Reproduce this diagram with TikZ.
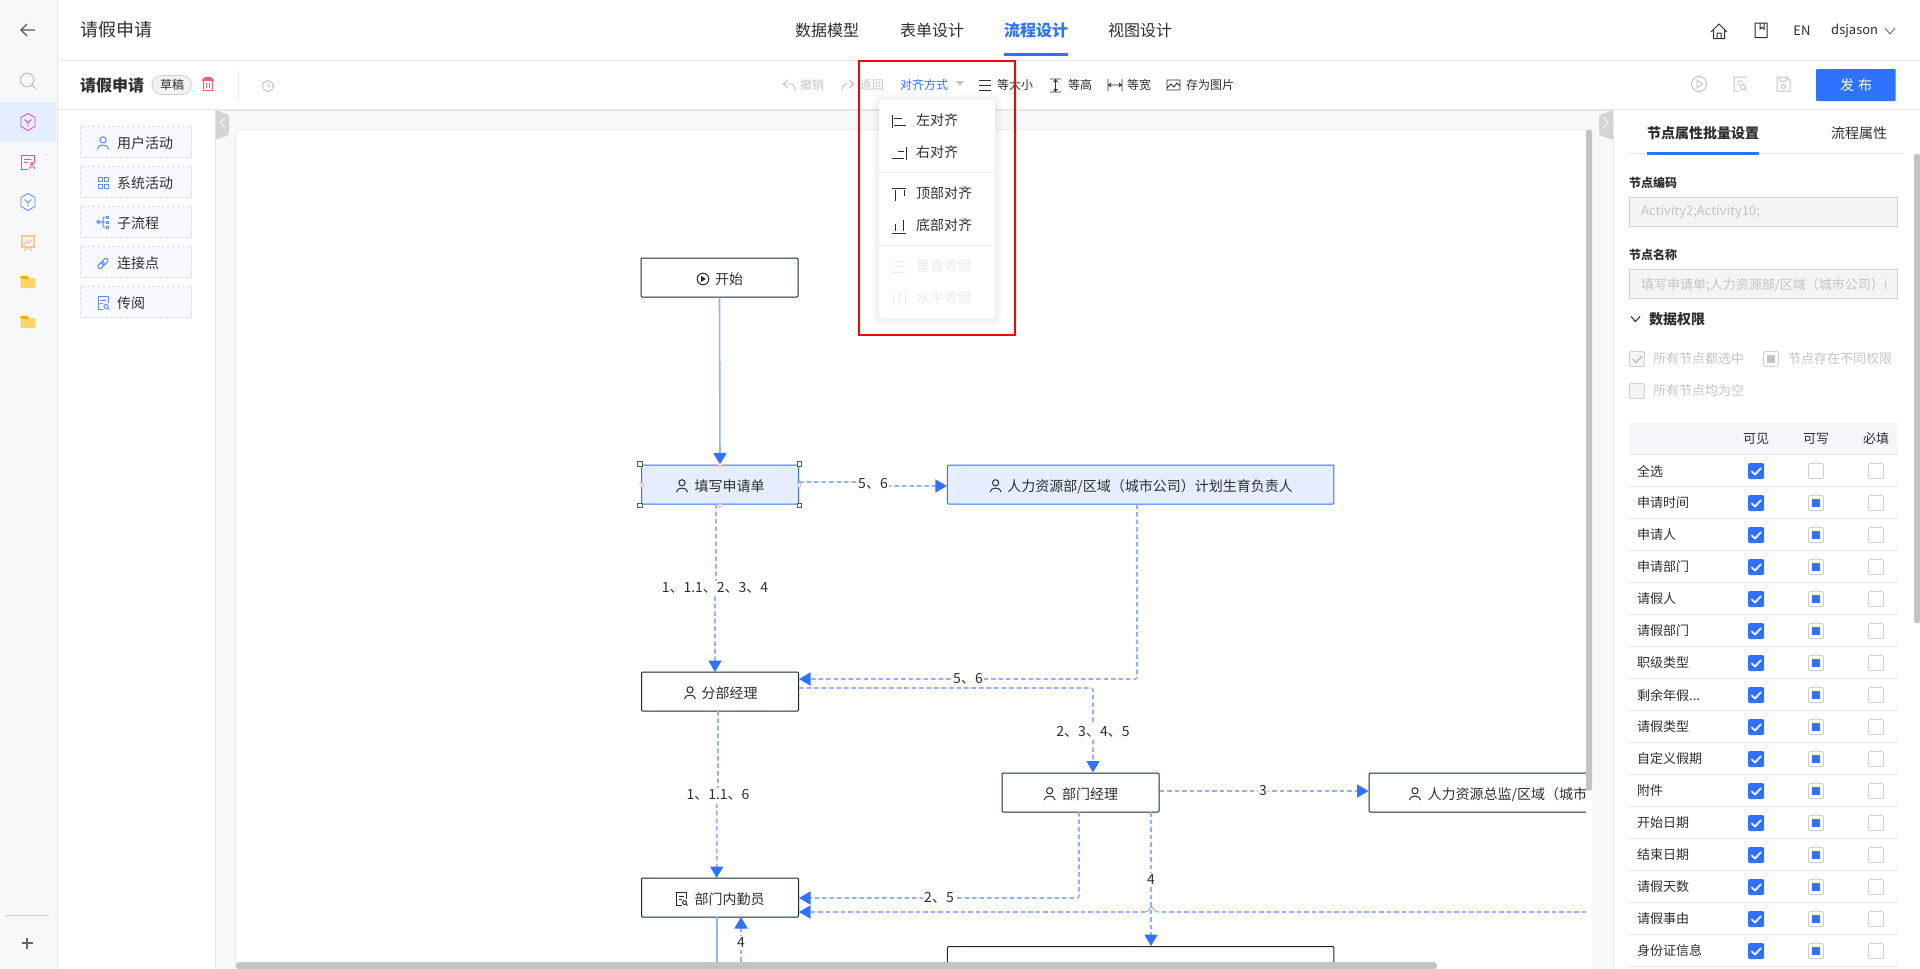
\documentclass[tikz,border=0pt]{standalone}
\usepackage{fontspec}
\setmainfont{Noto Sans CJK SC}
\usetikzlibrary{arrows.meta,calc}
\definecolor{blueA}{HTML}{2E72FF}
\definecolor{blueL}{HTML}{8DB2FF}
\definecolor{blueF}{HTML}{E5EEFF}
\definecolor{darkB}{HTML}{12293A}
\definecolor{txtA}{HTML}{2E2E2E}
\definecolor{txtG}{HTML}{C4C4C4}
\definecolor{txtH}{HTML}{EBEBEB}
\definecolor{panelG}{HTML}{F7F8FA}
\definecolor{lineG}{HTML}{E6E6E6}
\definecolor{barG}{HTML}{C2C3C5}
\definecolor{iconB}{HTML}{5C8DFF}
\definecolor{pinkA}{HTML}{EC4A9C}
\definecolor{orangeA}{HTML}{FFC58E}
\definecolor{yellowA}{HTML}{FFD566}
\definecolor{paletteF}{HTML}{F8F9FE}
\definecolor{paletteB}{HTML}{D9DEE9}
\definecolor{headF}{HTML}{F5F6FA}
\definecolor{trashR}{HTML}{F0606A}
\newcommand{\leftyear}{剩余年假...}
\newcounter{tc}
\newcommand{\tl}[5]{\stepcounter{tc}\node[inner sep=0,anchor=west,text=#4,font=\fontsize{#3}{#3}\selectfont] (t\thetc) at (#1,#2) {#5};}
\newcommand{\tm}[5]{\stepcounter{tc}\node[inner sep=0,text=#4,font=\fontsize{#3}{#3}\selectfont] (t\thetc) at (#1,#2) {#5};}
\newcommand{\personic}[3]{\begin{scope}[shift={(#1,#2)},draw=#3,line width=1pt]\draw (0,-3.2) circle (3.1);\draw (-5.5,6) .. controls (-5.5,0.8) and (5.5,0.8) .. (5.5,6);\end{scope}}
\newcommand{\cubeic}[3]{\begin{scope}[shift={(#1,#2)},draw=#3,line width=.9pt]\draw (0,-8.5) -- (7,-4.5) -- (7,4.5) -- (0,8.5) -- (-7,4.5) -- (-7,-4.5) -- cycle;\draw (-3.5,-2.5) -- (0,0.5) -- (3.5,-2.5) (0,0.5) -- (0,4.5);\end{scope}}
\newcommand{\folderic}[2]{\fill[yellowA,rounded corners=1pt] (#1-7.5,#2-6) -- (#1-1,#2-6) -- (#1+1,#2-4) -- (#1+7.5,#2-4) -- (#1+7.5,#2+6) -- (#1-7.5,#2+6) -- cycle;\fill[orange!75!yellow] (#1-7.5,#2-6) -- (#1-1,#2-6) -- (#1+1,#2-3.5) -- (#1-7.5,#2-3.5) -- cycle;}
\newcommand{\docic}[3]{\begin{scope}[shift={(#1,#2)},draw=#3,line width=1pt]\draw (5,0) -- (5,-6.5) -- (-5,-6.5) -- (-5,6.5) -- (0,6.5);\draw (-3,-3) -- (2.5,-3) (-3,0) -- (0,0);\draw (3,3.5) circle (2);\draw (4.5,5) -- (6,6.5);\end{scope}}
\newcommand{\cbvis}[2]{\fill[blueA,rounded corners=1.5pt] (#1-8,#2-8) rectangle (#1+8,#2+8);\draw[white,line width=1.7pt] (#1-4.5,#2+0.2) -- (#1-1,#2+3.5) -- (#1+5,#2-3);}
\newcommand{\cbempty}[2]{\draw[draw=lineG!90!black,fill=white,line width=.9pt,rounded corners=1.5pt] (#1-7.5,#2-7.5) rectangle (#1+7.5,#2+7.5);}
\newcommand{\cbpart}[2]{\cbempty{#1}{#2}\fill[blueA] (#1-4,#2-4) rectangle (#1+4,#2+4);}
\tikzset{
 x=1pt,y=-1pt,
 flowbox/.style={draw=darkB,fill=white,line width=1pt,rounded corners=1pt,inner sep=0,text=txtA,font=\fontsize{14}{14}\selectfont,minimum height=39pt,text height=13.4pt,text depth=.2pt},
 selbox/.style={flowbox,draw=blueA,fill=blueF},
 dashline/.style={draw=blueL,line width=1.6pt,dash pattern=on 4.5pt off 3pt,rounded corners=2pt},
 solidline/.style={draw=blueL,line width=1.6pt},
 tipped/.style={-{Triangle[length=11.5pt,width=13pt,color=blueA]}},
 flowlabel/.style={fill=white,inner sep=1.5pt,text=txtA,font=\fontsize{14}{14}\selectfont},
 palette/.style={draw=paletteB,fill=paletteF,dash pattern=on 3pt off 2pt,line width=.7pt},
 grayic/.style={draw=txtG,line width=1pt},
 darkic/.style={draw=txtA,line width=1pt},
 handlesq/.style={draw=black!65,fill=white,line width=.9pt,inner sep=0,minimum size=4.5pt,rectangle},
 handlept/.style={draw=red!35,fill=white,line width=.7pt,inner sep=0,minimum size=4pt,circle},
}
\begin{document}
\begin{tikzpicture}
\useasboundingbox (0,0) rectangle (1920,969);
\fill[white] (0,0) rectangle (1920,969);
% left bar
\fill[panelG] (0,0) rectangle (56.5,969);
\draw[lineG,line width=1pt] (57,0) -- (57,969);
\fill[blueF] (0,102) rectangle (56,142);
\draw[black!65,line width=1.1pt] (35,30) -- (21,30) (27,24) -- (21,30) -- (27,36);
\draw[txtG,line width=1.2pt] (27,80) circle (6.8) (32,85) -- (36,89);
\cubeic{28}{122}{pinkA}
\begin{scope}[draw=pinkA,line width=.9pt]
\draw (34,163) -- (34,155) -- (21,155) -- (21,169) -- (28,169);
\draw (24,159) -- (31,159) (24,162) -- (28,162);
\draw (32,164) circle (1.6) (29.5,169) -- (30,167) -- (34,167) -- (35,169);
\end{scope}
\cubeic{28}{202}{iconB}
\begin{scope}[draw=orangeA,line width=1.1pt]
\draw (20.5,236) -- (35.5,236) (22,236) -- (22,247) -- (34,247) -- (34,236);
\draw (24,245) -- (27,241) -- (29,243) -- (32,239);
\draw (28,247) -- (24,251) (28,247) -- (32,251);
\end{scope}
\folderic{28}{282}
\folderic{28}{322}
\draw[lineG!90!black,line width=1pt] (5,915) -- (49,915);
\draw[black!60,line width=1.2pt] (21.5,943) -- (32.5,943) (27,937.5) -- (27,948.5);
% header
\draw[lineG,line width=1pt] (57,60) -- (1920,60);
\draw[lineG,line width=1pt] (57,109) -- (1920,109);
\tl{80}{30}{18}{txtA}{请假申请}
\tm{827}{30}{16}{txtA}{数据模型}
\tm{932}{30}{16}{txtA}{表单设计}
\tm{1036}{30}{16}{blueA}{\bfseries 流程设计}
\tm{1140}{30}{16}{txtA}{视图设计}
\fill[blueA] (1004,53) rectangle (1068,56);
% header right
\begin{scope}[darkic]
\draw (1711,32) -- (1719,24) -- (1727,32) (1713.5,30) -- (1713.5,38.5) -- (1724.5,38.5) -- (1724.5,30) (1717,38.5) -- (1717,33) -- (1721,33) -- (1721,38.5);
\draw (1755,23) rectangle (1767,37.5) (1760,23) -- (1760,29) -- (1762,27.5) -- (1764,29) -- (1764,23);
\end{scope}
\tm{1802}{31}{13}{txtA}{EN}
\tl{1831}{31}{13}{txtA}{dsjason}
\draw[black!60,line width=.9pt] (1885,28) -- (1890,34) -- (1895,28);
% toolbar
\tl{80}{85}{16}{txtA}{\bfseries 请假申请}
\draw[lineG!90!black,fill=black!5,line width=.8pt,rounded corners=9.5pt] (152,75.5) rectangle (191.5,94.5);
\tm{172}{85}{12}{txtA}{草稿}
\begin{scope}[draw=trashR,line width=1.1pt]
\draw (202,80) -- (214,80) (205,80) -- (205,78) -- (211,78) -- (211,80);
\draw (203.5,80) rectangle (212.5,90.5);
\draw[line width=.8pt] (206.5,83) -- (206.5,88) (209.5,83) -- (209.5,88);
\end{scope}
\draw[lineG,line width=1pt] (238,71) -- (238,99);
\draw[grayic] (268,86) circle (5.5) (268,83) -- (268,86) -- (270.5,87) (272,86) -- (275,86);
% toolbar centre
\draw[grayic,line width=.9pt] (788,80) -- (783,84) -- (788,88) (783,84) -- (790,84) .. controls (794,84) and (795,87) .. (795,91);
\tl{800}{85}{12}{txtG}{撤销}
\draw[grayic,line width=.9pt] (849,80) -- (854,84) -- (849,88) (854,84) -- (847,84) .. controls (843,84) and (842,87) .. (842,91);
\tl{860}{85}{12}{txtG}{返回}
\tl{900}{85}{12}{blueA}{对齐方式}
\fill[txtG] (956,81) -- (964,81) -- (960,86) -- cycle;
\draw[darkic] (979,80) -- (991,80) (979,85) -- (991,85) (979,90) -- (991,90);
\tl{997}{85}{12}{txtA}{等大小}
\draw[darkic,line width=.9pt] (1050,79) -- (1061,79) (1050,92) -- (1061,92) (1055.5,79.5) -- (1055.5,91.5) (1053.5,82) -- (1055.5,80) -- (1057.5,82) (1053.5,89) -- (1055.5,91) -- (1057.5,89);
\tl{1068}{85}{12}{txtA}{等高}
\draw[darkic,line width=.9pt] (1108,79) -- (1108,91) (1122,79) -- (1122,91) (1108.5,85) -- (1121.5,85) (1111,83) -- (1109,85) -- (1111,87) (1119,83) -- (1121,85) -- (1119,87);
\tl{1127}{85}{12}{txtA}{等宽}
\draw[darkic,line width=.9pt] (1167,80) rectangle (1180,90) (1167,88) -- (1171,84) -- (1174,87) -- (1177,83) -- (1180,86);
\tl{1186}{85}{12}{txtA}{存为图片}
% toolbar right
\draw[grayic] (1699,84) circle (7.5) (1697,80) -- (1697,88) -- (1702.5,84) -- cycle;
\draw[grayic] (1746,78) -- (1746,77) -- (1734,77) -- (1734,91) -- (1739,91) (1737,81) -- (1743,81) (1737,84) -- (1740,84) (1743,87) circle (2.6) (1745,89) -- (1747,91);
\draw[grayic] (1777,77) -- (1786,77) -- (1790,80) -- (1790,91) -- (1777,91) -- cycle (1780,77) -- (1780,81) -- (1786,81) -- (1786,77) (1783.5,86.5) circle (2);
\fill[blueA,rounded corners=1pt] (1816,69) rectangle (1895.5,101);
\tm{1856}{85}{14}{white}{发\hspace{4pt}布}
% left panel palette
\foreach \n/\yy [count=\i] in {用户活动/142,系统活动/182,子流程/222,连接点/262,传阅/302}{
  \draw[palette] (80.5,\yy-15.5) rectangle (191.5,\yy+15.5);
  \tl{117}{\yy+1}{14}{txtA}{\n}
}
\personic{103}{143}{iconB}
\begin{scope}[draw=iconB,line width=1pt]
\draw (98,177) rectangle (102.5,181.5) (104.5,177) rectangle (108.5,181.5) (98,184) rectangle (102.5,188) (104.5,184) rectangle (108.5,188);
\draw (98.5,222) circle (1.6) (100,222) -- (103,222) (103,217) -- (103,227) (103,217) -- (105,217) (103,222) -- (105,222) (103,227) -- (105,227);
\draw (106,216) rectangle (108.5,218.5) (106,221) rectangle (108.5,223.5) (106,226) rectangle (108.5,228.5);
\draw[rotate around={-45:(103,263.5)},rounded corners=1.5pt] (101,257) rectangle (105,264.5) (101,262.5) rectangle (105,270);
\end{scope}
\docic{103}{303}{iconB}
\draw[lineG,line width=1pt] (215.5,110) -- (215.5,969);
% canvas
\fill[panelG] (216,110) rectangle (1613,969);
\draw[lineG,line width=.8pt] (216,110) -- (1613,110);
\fill[white,rounded corners=3pt] (236,130) -- (1592,130) -- (1592,969) -- (236,969) -- cycle;
\draw[lineG,line width=.8pt,rounded corners=3pt] (235.7,969) -- (235.7,129.7) -- (1592,129.7);
\fill[black!17,rounded corners=2pt] (215.5,110) -- (229,115) -- (229,135) -- (215.5,140) -- cycle;
\draw[white,line width=.8pt] (225,117.5) -- (220.5,122.5) -- (225,127.5);
\fill[black!17,rounded corners=2pt] (1613,110) -- (1599,115) -- (1599,135) -- (1613,140) -- cycle;
\draw[white,line width=.8pt] (1603.5,117.5) -- (1608,122.5) -- (1603.5,127.5);
% flow nodes
\begin{scope}
\clip (236,130) rectangle (1586,969);
\node[flowbox,minimum width=157pt] (start) at (719.5,277.5) {\hspace*{19pt}开始};
\node[selbox,minimum width=157pt] (fillform) at (720,484.5) {\hspace*{19pt}填写申请单};
\node[selbox,minimum width=386.5pt] (hr) at (1140.7,484.5) {\hspace*{19pt}人力资源部/区域（城市公司）计划生育负责人};
\node[flowbox,minimum width=157pt] (branch) at (720,691.5) {\hspace*{19pt}分部经理};
\node[flowbox,minimum width=157pt] (deptmgr) at (1080.5,792.5) {\hspace*{19pt}部门经理};
\node[flowbox,minimum width=300pt,anchor=west,text width=290pt,align=left] (hrdir) at (1368.5,792.5) {\hspace*{53.5pt}人力资源总监/区域（城市公司）};
\node[flowbox,minimum width=157pt] (clerk) at (720,897.5) {\hspace*{19pt}部门内勤员};
\node[flowbox,minimum width=386.5pt,anchor=north] (lower) at (1140.7,946) {};
% icons
\draw[darkic] (703,279) circle (5.8);
\fill[txtA] (701.2,276) -- (701.2,282) -- (705.8,279) -- cycle;
\personic{682}{486}{txtA}
\personic{995.6}{486}{txtA}
\personic{690}{693}{txtA}
\personic{1049.6}{794}{txtA}
\personic{1415}{794}{txtA}
\docic{681.5}{899}{txtA}
% connectors
\coordinate (rightin) at (1586,912);
\coordinate (bumpR) at (1158,912);
\coordinate (bumpL) at (1145,912);
\coordinate (below1) at (716.7,969);
\coordinate (below2) at (741,969);
\draw[solidline,tipped] (start.south) -- (fillform.north);
\draw[dashline,tipped] ([yshift=2.5pt]fillform.east) -- ++(74,0) -- ++(0,4) -- (hr.west |- 0,486);
\node[flowlabel] (l56a) at (873,484) {5、6};
\draw[dashline,tipped] (716,504) -- (716,588) -- (715,588) -- (715,672);
\node[flowlabel] (l1a) at (715,588) {1、1.1、2、3、4};
\draw[dashline,tipped] (hr.south -| 1137,0) -- (1137,679) -- (branch.east |- 0,679);
\node[flowlabel] (l56b) at (968,679) {5、6};
\draw[dashline,tipped] (branch.east |- 0,688) -- (1093,688) -- (deptmgr.north -| 1093,0);
\node[flowlabel] (l2a) at (1093,732) {2、3、4、5};
\draw[dashline,tipped] (718,711) -- (718,795) -- (716.7,795) -- (716.7,878);
\node[flowlabel] (l1b) at (718,795) {1、1.1、6};
\draw[dashline,tipped] (deptmgr.east |- 0,791) -- (hrdir.west |- 0,791);
\node[flowlabel] (l3) at (1263,791) {3};
\draw[dashline,tipped] (1079,812) -- (1079,898) -- (clerk.east |- 0,898);
\node[flowlabel] (l25) at (939,898) {2、5};
\draw[dashline] (rightin) -- (bumpR);
\draw[draw=blueL,line width=1pt] (bumpR) .. controls (1154,912) and (1153,907) .. (1151.5,907) .. controls (1150,907) and (1149,912) .. (bumpL);
\draw[dashline,tipped] (bumpL) -- (clerk.east |- 0,912);
\draw[dashline,tipped] (1151,812) -- (1151,946);
\node[flowlabel] (l4a) at (1151,879) {4};
\draw[solidline] (716.7,917) -- (below1);
\draw[dashline,tipped] (below2) -- (741,917);
\node[flowlabel] (l4b) at (741,942) {4};
% selection handles
\foreach \hx/\hy [count=\i] in {640/464,799.5/464,640/505.5,799.5/505.5}{\node[handlesq] (hs\i) at (\hx,\hy) {};}
\foreach \hx/\hy [count=\i] in {720/465,641.7/485,799/485,720/505.6}{\node[handlept] (hp\i) at (\hx,\hy) {};}
\end{scope}
% scrollbars
\fill[barG,rounded corners=2pt] (1586,130) rectangle (1592,790.7);
\fill[barG,rounded corners=3pt] (236,962) rectangle (1437,969);
% dropdown
\foreach \gr in {7,5,3,1}{\fill[black,opacity=.014,rounded corners=5pt] (879-\gr,100-\gr+1) rectangle (995+\gr,318+\gr+1);}
\fill[white,rounded corners=3pt] (879,100) rectangle (995,318);
\draw[lineG!70,line width=.8pt] (879,172) -- (995,172) (879,245) -- (995,245);
\draw[darkic] (892,115) -- (892,128) (894,118) -- (902,118) (894,125) -- (906,125);
\tl{916}{120}{14}{txtA}{左对齐}
\draw[darkic] (906,147) -- (906,160) (898,151) -- (904,151) (892,158) -- (904,158);
\tl{916}{152.5}{14}{txtA}{右对齐}
\draw[darkic] (892,188) -- (906,188) (895,190) -- (895,201) (904,190) -- (904,196);
\tl{916}{193}{14}{txtA}{顶部对齐}
\draw[darkic] (892,233) -- (906,233) (895,224) -- (895,231) (903,220) -- (903,231);
\tl{916}{225}{14}{txtA}{底部对齐}
\draw[draw=txtH,line width=1pt] (892,261) -- (906,261) (892,266.5) -- (906,266.5) (892,272) -- (906,272);
\tl{916}{266}{14}{txtH}{垂直等距}
\draw[draw=txtH,line width=1pt] (893,292) -- (893,305) (899,292) -- (899,305) (905,292) -- (905,305);
\tl{916}{298}{14}{txtH}{水平等距}
\draw[red,line width=2pt] (859,61) rectangle (1014.5,335);
% right panel
\fill[white] (1613.5,110) rectangle (1920,969);
\draw[lineG,line width=1pt] (1613.5,110) -- (1613.5,969);
\tl{1647}{133}{14}{txtA}{\bfseries 节点属性批量设置}
\tl{1831}{133}{14}{txtA}{流程属性}
\draw[lineG,line width=1pt] (1629,153.5) -- (1904,153.5);
\fill[blueA] (1647,152) rectangle (1759,154.5);
\fill[barG,rounded corners=2pt] (1914,154) rectangle (1920,623);
\tl{1629}{183}{12}{txtA}{\bfseries 节点编码}
\draw[draw=lineG!90!black,fill=black!4.5,line width=.9pt] (1629.5,197.5) rectangle (1897.5,226);
\tl{1641}{212}{13}{txtG}{Activity2;Activity10;}
\tl{1629}{255}{12}{txtA}{\bfseries 节点名称}
\draw[draw=lineG!90!black,fill=black!4.5,line width=.9pt] (1629.5,269.5) rectangle (1897.5,298);
\tl{1641}{285}{13}{txtG}{填写申请单;人力资源部/区域（城市公司）i}
\draw[txtA,line width=1pt] (1631,316.5) -- (1635.5,321.5) -- (1640,316.5);
\tl{1649}{319}{14}{txtA}{\bfseries 数据权限}
% option checkboxes
\draw[draw=lineG!90!black,fill=black!4.5,line width=.9pt,rounded corners=1.5pt] (1629.5,351.5) rectangle (1644.5,366.5);
\draw[txtG,line width=1.6pt] (1632.5,359) -- (1636,362.5) -- (1642,356);
\tl{1653}{359}{13}{txtG}{所有节点都选中}
\cbempty{1771}{359}
\fill[txtG] (1767,355) rectangle (1775,363);
\tl{1788}{359}{13}{txtG}{节点存在不同权限}
\draw[draw=lineG!90!black,fill=black!4.5,line width=.9pt,rounded corners=1.5pt] (1629.5,383.5) rectangle (1644.5,398.5);
\tl{1653}{391}{13}{txtG}{所有节点均为空}
% table
\fill[headF] (1629,423) rectangle (1898,454.5);
\tm{1756}{439}{13}{txtA}{可见}
\tm{1816}{439}{13}{txtA}{可写}
\tm{1876}{439}{13}{txtA}{必填}
\draw[lineG,line width=.9pt] (1629,454.5) -- (1898,454.5);
\foreach \n [count=\i from 0] in {全选,申请时间,申请人,申请部门,请假人,请假部门,职级类型,\leftyear,请假类型,自定义假期,附件,开始日期,结束日期,请假天数,请假事由,身份证信息}{
  \pgfmathsetmacro{\ry}{471+32*\i}
  \tl{1637}{\ry}{13}{txtA}{\n}
  \cbvis{1756}{\ry}
  \ifnum\i=0 \cbempty{1816}{\ry}\else \cbpart{1816}{\ry}\fi
  \cbempty{1876}{\ry}
  \draw[lineG,line width=.9pt] (1629,\ry+15.5) -- (1898,\ry+15.5);
}
\end{tikzpicture}
\end{document}
